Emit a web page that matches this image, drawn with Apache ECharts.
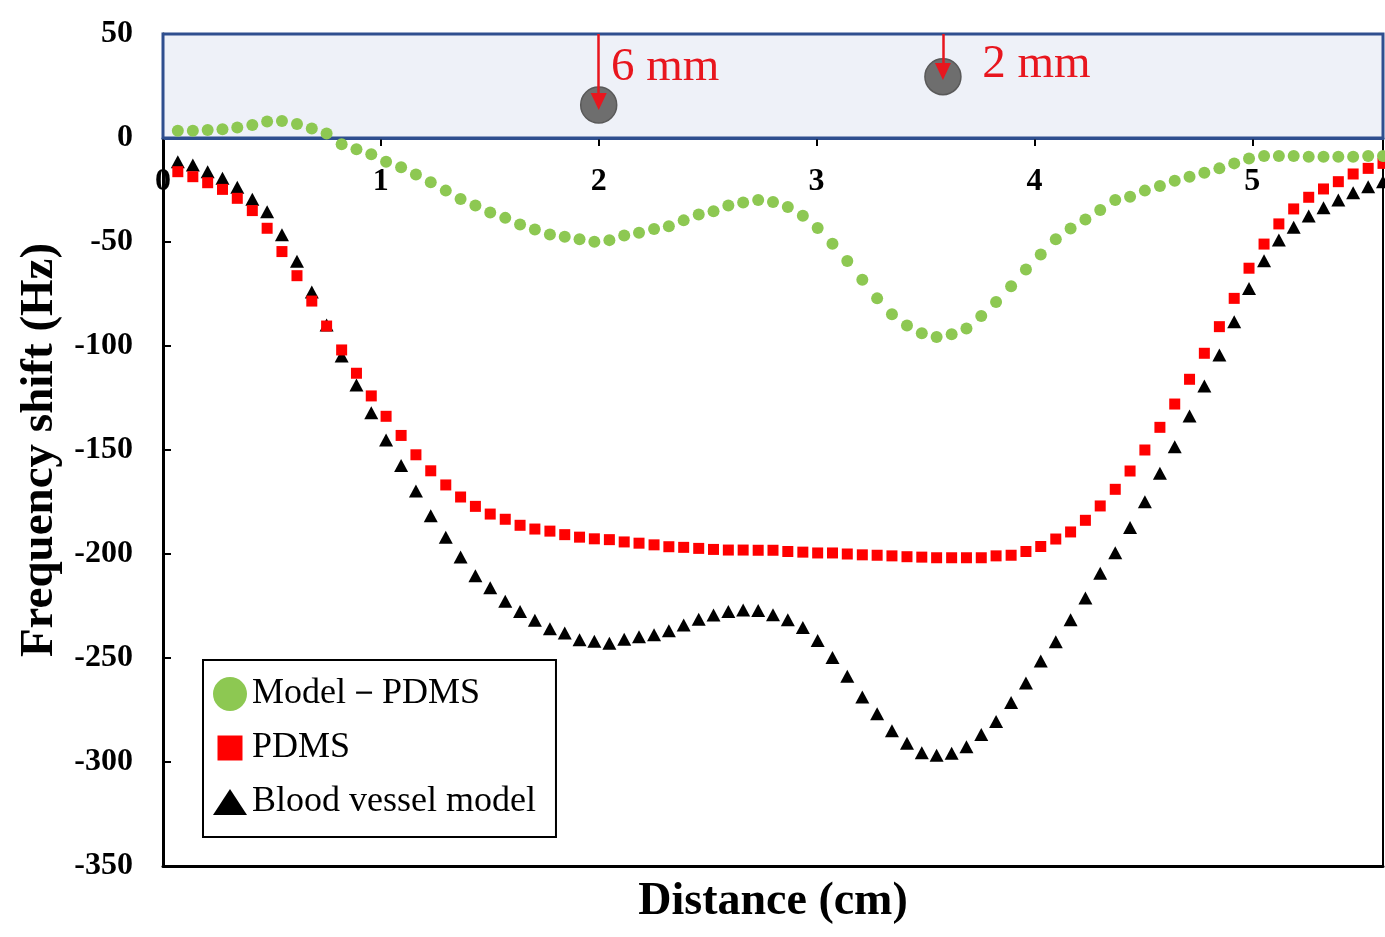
<!DOCTYPE html>
<html>
<head>
<meta charset="utf-8">
<script src="https://cdn.jsdelivr.net/npm/echarts@6/dist/echarts.min.js"></script>
<style>
  html, body { margin: 0; padding: 0; background: #ffffff; }
  #chart { width: 1385px; height: 937px; }
</style>
</head>
<body>
<div id="chart"></div>
<script>
// Sampling positions along the scan (cm)
const distance = [
  0.068, 0.137, 0.205, 0.273, 0.341, 0.410, 0.478, 0.546, 0.615, 0.683,
  0.751, 0.820, 0.888, 0.956, 1.024, 1.093, 1.161, 1.229, 1.298, 1.366,
  1.434, 1.502, 1.571, 1.639, 1.707, 1.776, 1.844, 1.912, 1.980, 2.049,
  2.117, 2.185, 2.254, 2.322, 2.390, 2.459, 2.527, 2.595, 2.663, 2.732,
  2.800, 2.868, 2.937, 3.005, 3.073, 3.141, 3.210, 3.278, 3.346, 3.415,
  3.483, 3.551, 3.620, 3.688, 3.756, 3.824, 3.893, 3.961, 4.029, 4.098,
  4.166, 4.234, 4.302, 4.371, 4.439, 4.507, 4.576, 4.644, 4.712, 4.780,
  4.849, 4.917, 4.985, 5.054, 5.122, 5.190, 5.259, 5.327, 5.395, 5.463,
  5.532, 5.600
];

// Frequency shift (Hz): difference curve, model minus PDMS
const modelMinusPdms = [
  3.5, 3.5, 3.8, 4.2, 5.1, 6.2, 7.9, 8.2, 6.7, 4.6,
  2.2, -3.0, -5.4, -7.8, -11.4, -14.1, -17.5, -21.3, -25.3, -29.3,
  -32.4, -35.8, -38.4, -41.6, -44.0, -46.4, -47.5, -48.7, -49.9, -49.1,
  -46.9, -45.6, -43.8, -42.4, -39.6, -36.8, -35.2, -32.5, -31.0, -29.8,
  -30.8, -33.2, -37.4, -43.3, -50.8, -59.1, -68.1, -77.1, -84.7, -90.1,
  -93.9, -95.7, -94.3, -91.6, -85.6, -78.9, -71.3, -63.2, -56.0, -48.7,
  -43.5, -39.2, -34.6, -29.8, -28.2, -25.3, -23.1, -20.5, -18.6, -16.7,
  -14.6, -12.2, -9.8, -8.7, -8.7, -8.7, -9.0, -9.0, -9.0, -9.0,
  -8.7, -8.7
];

// Frequency shift (Hz): plain PDMS block
const pdms = [
  -16.2, -18.6, -21.5, -24.7, -29.0, -34.9, -43.4, -54.6, -66.2, -78.4,
  -90.4, -101.9, -113.1, -124.0, -133.8, -143.0, -152.3, -160.0, -166.8, -172.6,
  -177.1, -180.8, -183.3, -186.2, -188.0, -189.0, -190.7, -191.9, -192.7, -193.1,
  -194.2, -194.8, -195.6, -196.5, -196.8, -197.3, -197.8, -198.1, -198.1, -198.2,
  -198.2, -198.8, -199.1, -199.5, -199.5, -200.0, -200.4, -200.6, -200.9, -201.3,
  -201.5, -201.8, -201.8, -201.8, -201.8, -200.9, -200.6, -198.8, -196.4, -192.8,
  -189.4, -183.8, -176.9, -168.9, -160.1, -150.0, -139.1, -127.9, -116.0, -103.5,
  -90.7, -77.1, -62.6, -51.0, -41.3, -34.1, -28.5, -24.5, -21.0, -17.3,
  -14.6, -12.2
];

// Frequency shift (Hz): blood vessel model with embedded channels
const vesselModel = [
  -11.4, -13.0, -16.2, -19.4, -23.7, -29.5, -35.4, -46.5, -59.2, -74.0,
  -89.9, -104.8, -118.7, -132.1, -145.2, -157.4, -169.7, -181.6, -192.0, -201.4,
  -210.4, -216.2, -222.7, -227.7, -231.9, -235.9, -238.0, -241.2, -242.0, -242.9,
  -241.0, -239.8, -238.8, -236.9, -234.1, -231.4, -229.3, -227.7, -226.9, -227.2,
  -229.2, -231.6, -235.3, -241.6, -249.7, -258.8, -268.7, -276.8, -285.0, -291.0,
  -295.5, -296.7, -295.8, -292.7, -286.8, -280.5, -271.4, -262.0, -251.5, -242.2,
  -231.6, -221.2, -209.3, -199.4, -187.2, -174.9, -161.2, -148.4, -133.7, -119.2,
  -104.3, -88.3, -72.3, -59.0, -49.0, -42.9, -37.5, -33.5, -29.8, -26.3,
  -23.4, -21.0
];

// Channel cross-sections shown in the inset strip
const channelX = [2.0, 3.58];
const channelY = [15.9, 29.5];
const channelLabels = ['6 mm', '2 mm'];
const arrowEndY = [17.5, 32.0];

// Inset strip extent (Hz) and axis ranges
const stripRange = [0, 50];
const xRange = [0, 5.6];
const yRange = [-350, 50];

const SERIF = '"Liberation Serif", "Times New Roman", serif';
const toPairs = ys => distance.map((x, i) => [x, ys[i]]);

const chart = echarts.init(document.getElementById('chart'), null, { renderer: 'canvas' });

// caption placement for each channel (relative to the marker box)
const captionOffsets = [[31, -19], [58, 7]];

const gridLeft = 163, gridRight = 2, gridTop = 34, gridBottom = 71;
// the strip grid spans the 0..50 Hz band of the main grid
const plotHeight = 937 - gridTop - gridBottom;
const stripHeight = plotHeight * (stripRange[1] - stripRange[0]) / (yRange[1] - yRange[0]);

chart.setOption({
  animation: false,
  backgroundColor: '#ffffff',
  grid: [
    { left: gridLeft, right: gridRight, top: gridTop, bottom: gridBottom, containLabel: false, outerBoundsMode: 'none' },
    { left: gridLeft, right: gridRight, top: gridTop, height: stripHeight, containLabel: false, outerBoundsMode: 'none' }
  ],
  legend: {
    left: 203, top: 660,
    orient: 'vertical',
    selectedMode: false,
    backgroundColor: '#ffffff',
    borderColor: '#000000',
    borderWidth: 2,
    padding: [16, 20, 17, 10],
    itemGap: 18,
    itemWidth: 34,
    itemHeight: 34,
    itemStyle: { opacity: 1 },
    textStyle: { fontFamily: SERIF, fontSize: 36, color: '#000000' },
    data: [
      { name: 'Model－PDMS', icon: 'circle' },
      { name: 'PDMS', icon: 'path://M0,0M34,34M4.5,4.5L29.5,4.5L29.5,29.5L4.5,29.5Z' },
      { name: 'Blood vessel model', icon: 'path://M0,0M34,34M17,4L34,30L0,30Z' }
    ]
  },
  xAxis: [
    {
      // frame bottom with the axis title
      gridIndex: 0,
      type: 'value',
      min: xRange[0], max: xRange[1],
      position: 'bottom',
      axisLine: { show: true, onZero: false, lineStyle: { color: '#000000', width: 3 } },
      axisTick: { show: false },
      axisLabel: { show: false },
      splitLine: { show: false },
      name: 'Distance (cm)',
      nameLocation: 'middle',
      nameGap: 13,
      nameTextStyle: { fontFamily: SERIF, fontWeight: 'bold', fontSize: 46, color: '#000000' }
    },
    {
      // distance scale drawn along the 0 Hz line
      gridIndex: 1,
      type: 'value',
      min: xRange[0], max: xRange[1], interval: 1,
      position: 'bottom',
      axisLine: { show: true, onZero: false, lineStyle: { color: '#2f4f8f', width: 3 } },
      axisTick: { show: true, inside: false, length: 8, lineStyle: { color: '#000000', width: 2 } },
      axisLabel: {
        margin: 28,
        showMaxLabel: false,
        fontFamily: SERIF, fontWeight: 'bold', fontSize: 32, color: '#000000',
        formatter: v => (Number.isInteger(v) ? String(v) : '')
      },
      splitLine: { show: false }
    }
  ],
  yAxis: [
    {
      gridIndex: 0,
      type: 'value',
      min: yRange[0], max: yRange[1], interval: 50,
      position: 'left',
      axisLine: { show: true, onZero: false, lineStyle: { color: '#000000', width: 3 } },
      axisTick: { show: true, inside: true, length: 8, lineStyle: { color: '#000000', width: 2 } },
      axisLabel: { margin: 30, fontFamily: SERIF, fontWeight: 'bold', fontSize: 32, color: '#000000' },
      splitLine: { show: false },
      name: 'Frequency shift (Hz)',
      nameLocation: 'middle',
      nameRotate: 90,
      nameGap: 93,
      nameTextStyle: { fontFamily: SERIF, fontWeight: 'bold', fontSize: 47, color: '#000000' }
    },
    {
      gridIndex: 0,
      type: 'value',
      min: yRange[0], max: yRange[1],
      position: 'right',
      axisLine: { show: true, onZero: false, lineStyle: { color: '#000000', width: 2 } },
      axisTick: { show: false },
      axisLabel: { show: false },
      splitLine: { show: false }
    },
    {
      gridIndex: 1,
      type: 'value',
      min: stripRange[0], max: stripRange[1],
      show: false
    }
  ],
  series: [
    {
      // inset strip holding the channel cross-sections
      name: 'strip',
      type: 'line',
      data: [],
      z: 1,
      markArea: {
        silent: true,
        itemStyle: { color: '#eef1f8', borderColor: '#2f4f8f', borderWidth: 3, opacity: 1 },
        data: [[{ coord: [xRange[0], stripRange[0]] }, { coord: [xRange[1], stripRange[1]] }]]
      }
    },
    {
      name: 'channels',
      type: 'scatter',
      z: 2,
      symbol: 'circle',
      symbolSize: 36,
      itemStyle: { color: '#6e6e6e', borderColor: '#595959', borderWidth: 1.5, opacity: 1 },
      label: {
        show: true,
        formatter: '{b}',
        align: 'left',
        verticalAlign: 'middle',
        fontFamily: SERIF,
        fontSize: 47,
        color: '#e8161e'
      },
      data: channelX.map((x, i) => ({
        name: channelLabels[i],
        value: [x, channelY[i]],
        label: { position: captionOffsets[i] }
      })),
      markLine: {
        silent: true,
        symbol: ['none', 'triangle'],
        symbolSize: [16, 17],
        lineStyle: { color: '#e8161e', width: 2.5, type: 'solid', opacity: 1 },
        itemStyle: { color: '#e8161e' },
        label: { show: false },
        data: channelX.map((x, i) => [
          { coord: [x, stripRange[1]] },
          { coord: [x, arrowEndY[i]] }
        ])
      }
    },
    {
      name: 'Model－PDMS',
      type: 'scatter',
      z: 5,
      symbol: 'circle',
      symbolSize: 12,
      itemStyle: { color: '#8dc852', opacity: 1 },
      data: toPairs(modelMinusPdms)
    },
    {
      name: 'Blood vessel model',
      type: 'scatter',
      z: 3,
      symbol: 'triangle',
      symbolSize: [14, 13],
      itemStyle: { color: '#000000', opacity: 1 },
      data: toPairs(vesselModel)
    },
    {
      name: 'PDMS',
      type: 'scatter',
      z: 4,
      symbol: 'rect',
      symbolSize: 11,
      itemStyle: { color: '#ff0000', opacity: 1 },
      data: toPairs(pdms)
    }
  ]
});
</script>
</body>
</html>
